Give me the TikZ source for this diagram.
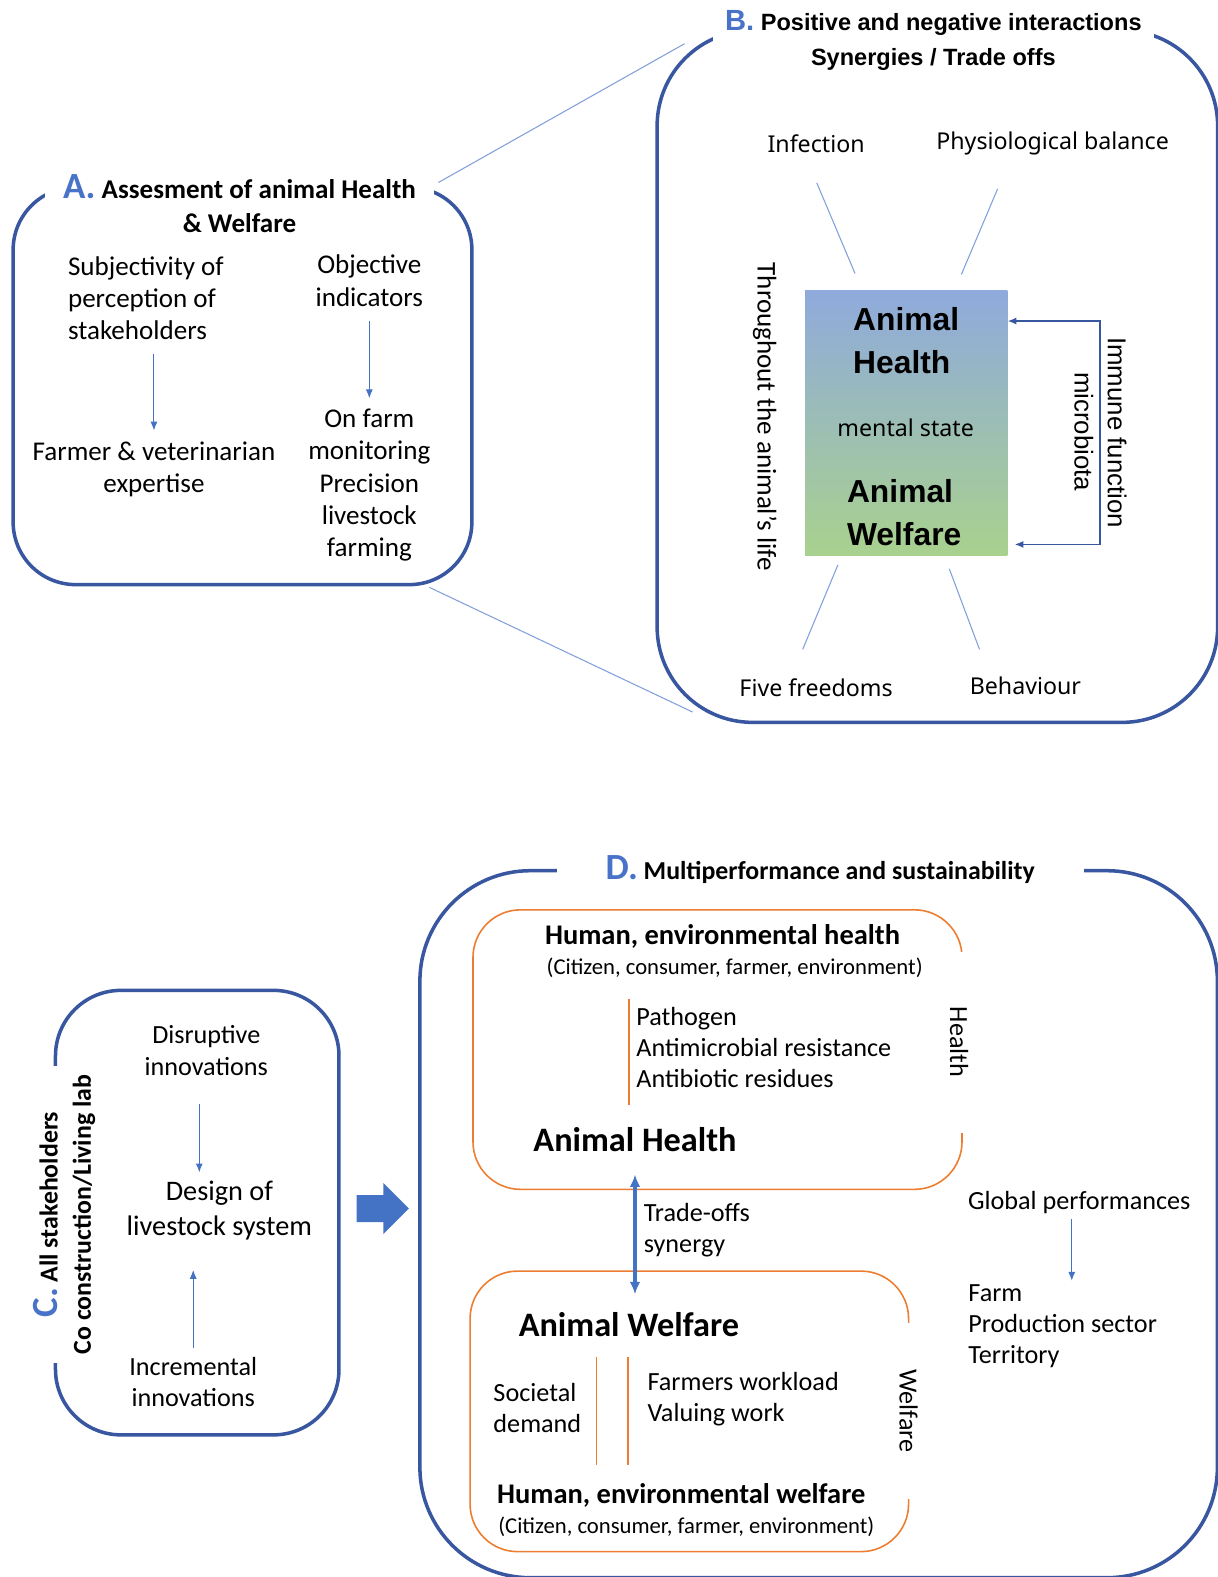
\documentclass[tikz,border=0pt]{standalone}
\usepackage{fontspec}
\setmainfont{Carlito}
\newfontfamily\notosans{Noto Sans}
\newfontfamily\arialsub{Liberation Sans}
\usepackage{tikz}
\usetikzlibrary{arrows.meta,shapes.arrows}
\definecolor{boxblue}{RGB}{56,87,160}
\definecolor{lineblue}{RGB}{68,114,196}
\definecolor{paleblue}{RGB}{130,160,220}
\definecolor{letterblue}{RGB}{72,115,200}
\definecolor{orangeln}{RGB}{237,125,49}
\definecolor{coretop}{RGB}{143,170,220}
\definecolor{corebot}{RGB}{169,209,142}
\newcommand{\secmark}[1]{{\color{letterblue}\fontsize{21}{19}\selectfont #1}}

\begin{document}
\begin{tikzpicture}[x=0.02012cm,y=-0.02012cm]
\tikzset{panel/.style = {draw=boxblue, line width=2pt, inner sep=0}}
\tikzset{heading/.style = {fill=white, inner sep=0, align=center, font=\bfseries\fontsize{15.4}{19.4}\selectfont}}
\tikzset{txt/.style = {inner sep=2pt, align=center, font=\fontsize{15.4}{18.3}\selectfont}}
\tikzset{dtxt/.style = {txt, font=\fontsize{14.9}{17.8}\selectfont}}
\tikzset{boldtxt/.style = {txt, font=\bfseries\fontsize{16.2}{19}\selectfont}}
\tikzset{smalltxt/.style = {txt, font=\fontsize{12.9}{15}\selectfont}}
\tikzset{bigtxt/.style = {txt, font=\bfseries\fontsize{19.5}{23}\selectfont}}
\tikzset{verd/.style = {txt, font=\notosans\fontsize{13.2}{16}\selectfont}}
\tikzset{bigverd/.style = {txt, font=\arialsub\bfseries\fontsize{18.1}{24.6}\selectfont}}
\tikzset{arialtxt/.style = {txt, font=\arialsub\fontsize{14.7}{17}\selectfont}}
\tikzset{gaplabel/.style = {dtxt, fill=white}}
\tikzset{core/.style = {minimum width=4.045cm, minimum height=5.29cm, inner sep=0, top color=coretop, bottom color=corebot}}
\tikzset{softbox/.style = {draw=orangeln, line width=0.9pt, rounded corners=0.95cm, inner sep=0}}
\tikzset{divider/.style = {draw=orangeln, line width=0.7pt}}
\tikzset{thinarrow/.style = {-{Latex[length=5pt,width=4pt]}, draw=lineblue, line width=0.6pt, shorten <=6pt, shorten >=4pt}}
\tikzset{ray/.style = {draw=paleblue, line width=0.6pt}}
\tikzset{fbarrow/.style = {{Latex[length=5pt,width=4pt]}-{Latex[length=5pt,width=4pt]}, draw=boxblue, line width=0.8pt}}
\tikzset{duo/.style = {{Latex[length=7pt,width=6pt]}-{Latex[length=7pt,width=6pt]}, draw=lineblue, line width=1.8pt}}
\tikzset{bigarrow/.style = {single arrow, fill=lineblue, inner xsep=0, inner ysep=0.262cm, minimum height=1.046cm, minimum width=1.006cm, single arrow head extend=0.241cm, single arrow head indent=0}}

\path[use as bounding box, fill=white] (0cm,0cm) rectangle (24.36cm,-31.54cm);

\node[panel, rounded corners=1.25cm, minimum width=9.175cm, minimum height=7.947cm] (boxA) at (241,383.5) {};
\node[heading, minimum width=7.79cm, minimum height=1.31cm] (titA) at (238,202) {\secmark{A.} Assesment of animal Health\\\& Welfare};

\node[txt, align=left] (subj) at (145,296) {Subjectivity of\\perception of\\stakeholders};
\node[txt] (vet) at (153,466) {Farmer \& veterinarian\\expertise};
\node[txt] (obj) at (367,279) {Objective\\indicators};
\node[txt] (mon) at (367,482) {On farm\\monitoring\\Precision\\livestock\\farming};

\draw[thinarrow] (vet.north |- subj.south) -- (vet.north);
\draw[thinarrow] (mon.north |- obj.south) -- (mon.north);

\node[panel, rounded corners=1.91cm, minimum width=11.21cm, minimum height=13.84cm] (boxB) at (931.5,374) {};
\node[heading, font=\arialsub\bfseries\fontsize{13.4}{20.1}\selectfont, minimum width=8.83cm, minimum height=1.41cm] (titB) at (927.5,40) {{\color{letterblue}\fontsize{16.6}{20}\selectfont B.} Positive and negative interactions\\Synergies / Trade offs};

\draw[ray] ([shift={(-35,-3)}]boxA.north east) -- ([shift={(29,15)}]boxB.north west);
\draw[ray] ([shift={(-44,1)}]boxA.south east) -- ([shift={(37,-12)}]boxB.south west);

\node[verd] (inf) at (811,143) {Infection};
\node[verd] (phys) at (1046,143) {Physiological balance};
\node[verd] (five) at (811,683) {Five freedoms};
\node[verd] (behav) at (1019,681) {Behaviour};

\node[core] (core) at (900.5,420.5) {};
\node[bigverd, align=left] (ah) at (900.5,338.5) {Animal\\Health};
\node[verd] (ment) at (900,425) {mental state};
\node[bigverd, align=left] (aw) at (898.5,509.5) {Animal\\Welfare};

\draw[ray] ([shift={(50,-17)}]core.north west) -- ++(-38,-90);
\draw[ray] ([shift={(-46,-16)}]core.north east) -- ++(36,-85);
\draw[ray] ([shift={(33,9)}]core.south west) -- ++(-35,84);
\draw[ray] ([shift={(-58,13)}]core.south east) -- ++(30,80);

\coordinate (imm1) at (1093,319);
\coordinate (imm2) at (1093,541);
\draw[fbarrow, shorten >=4pt] (core.east |- imm1) -- (imm1) -- (imm2) -- (core.east |- imm2);

\node[txt, rotate=-90] (life) at (760,414) {Throughout the animal's life};
\node[arialtxt, rotate=-90] (immune) at (1110,430) {Immune function};
\node[arialtxt, rotate=-90] (micro) at (1077,429) {microbiota};

\node[panel, rounded corners=1.31cm, minimum width=5.67cm, minimum height=8.89cm] (boxC) at (196,1205) {};
\node[heading, rotate=90, font=\bfseries\fontsize{14.7}{18.9}\selectfont, minimum width=5.94cm] (titC) at (64,1207) {\secmark{C.} All stakeholders\\Co construction/Living lab};

\node[dtxt] (disr) at (205,1044) {Disruptive\\innovations};
\node[txt, font=\fontsize{16.1}{19.5}\selectfont] (design) at (218,1203) {Design of\\livestock system};
\node[dtxt] (incr) at (192,1373) {Incremental\\innovations};

\draw[thinarrow, shorten <=14pt, shorten >=3pt] ([xshift=-0.14cm]disr.south) -- ([xshift=-0.14cm]disr.south |- design.north);
\draw[thinarrow, shorten <=3pt, shorten >=15pt] (incr.north) -- (incr.north |- design.south);

\node[bigarrow, anchor=west] (push) at (354,1201) {};

\node[panel, rounded corners=2.21cm, minimum width=15.95cm, minimum height=14.14cm] (boxD) at (813.5,1216.5) {};
\node[heading, font=\bfseries\fontsize{14.7}{17}\selectfont, minimum width=10.54cm, minimum height=0.8cm] (titD) at (815,864) {\secmark{D.} Multiperformance and sustainability};

\node[softbox, minimum width=9.78cm, minimum height=5.59cm] (hbox) at (713,1043) {};
\node[gaplabel, rotate=-90, minimum width=3.62cm] (hlab) at (953,1035.5) {Health};
\node[boldtxt] (hhum) at (718,931) {Human, environmental health};
\node[smalltxt] (hcit) at (730,962) {(Citizen, consumer, farmer, environment)};
\node[dtxt, align=left] (patho) at (759,1041) {Pathogen\\Antimicrobial resistance\\Antibiotic residues};
\draw[divider] (625,993) -- (625,1098);
\node[bigtxt] (ah2) at (631,1132) {Animal Health};

\node[softbox, minimum width=8.77cm, minimum height=5.61cm] (wbox) at (685,1402.5) {};
\node[gaplabel, rotate=-90, minimum width=3.52cm] (wlab) at (903,1402) {Welfare};
\node[bigtxt] (aw2) at (625,1316) {Animal Welfare};
\node[dtxt, align=left] (soc) at (534,1399.5) {Societal\\demand};
\draw[divider] (593,1348) -- (593,1456);
\draw[divider] (624,1348) -- (624,1456);
\node[dtxt, align=left] (work) at (738.5,1390.5) {Farmers workload\\Valuing work};
\node[boldtxt] (whum) at (677,1486) {Human, environmental welfare};
\node[smalltxt] (wcit) at (682,1517) {(Citizen, consumer, farmer, environment)};

\draw[duo, shorten <=11pt, shorten >=8pt] (ah2.south) -- (ah2.south |- aw2.north);
\node[dtxt, align=left] (trade) at (692.5,1222.5) {Trade-offs\\synergy};

\node[dtxt] (glob) at (1072.5,1195) {Global performances};
\node[dtxt, align=left] (scale) at (1056,1318) {Farm\\Production sector\\Territory};
\draw[thinarrow, shorten <=1pt, shorten >=0pt] ([xshift=-0.15cm]glob.south) -- ([xshift=-0.15cm]glob.south |- scale.north);

\end{tikzpicture}
\end{document}
